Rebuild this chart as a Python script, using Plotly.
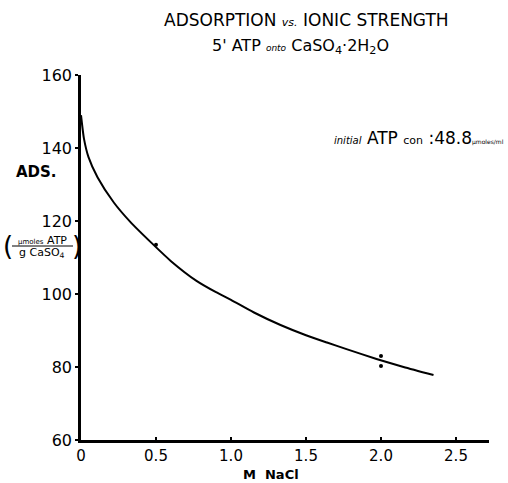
import plotly.graph_objects as go

# Fitted curve
curve_m = [0.0, 0.02, 0.05, 0.11, 0.22, 0.33, 0.47, 0.6, 0.77, 0.9, 1.0, 1.15, 1.33, 1.5, 1.64, 1.77, 1.97, 2.15, 2.35]
curve_ads = [149.0, 142.5, 137.5, 132.0, 125.0, 119.7, 114.0, 109.0, 103.6, 100.5, 98.4, 95.0, 91.5, 88.7, 86.7, 84.9, 82.2, 80.0, 77.8]

# Measured points
point_m = [0.5, 2.0, 2.0]
point_ads = [113.5, 83.0, 80.3]

x_ticks = [0, 0.5, 1.0, 1.5, 2.0, 2.5]
x_tick_labels = ["0", "0.5", "1.0", "1.5", "2.0", "2.5"]
y_ticks = [60, 80, 100, 120, 140, 160]
y_tick_labels = ["60", "80", "100", "120", "140", "160"]

FONT = "DejaVu Sans"
W, H = 508, 483
L, R, T, B = 81, 19, 75, 43
PW, PH = W - L - R, H - T - B


def px(x):
    return (x - L) / PW


def py(y):
    return (H - y - B) / PH


def ann(text, x, y, size, xanchor="center", yanchor="middle"):
    return dict(text=text, x=px(x), y=py(y), xref="paper", yref="paper",
                xanchor=xanchor, yanchor=yanchor, showarrow=False,
                font=dict(size=size, family=FONT, color="black"))


fig = go.Figure()
fig.add_trace(go.Scatter(x=curve_m, y=curve_ads, mode="lines",
                         line=dict(color="black", width=2, shape="spline", smoothing=0.6),
                         hoverinfo="skip", showlegend=False))
fig.add_trace(go.Scatter(x=point_m, y=point_ads, mode="markers",
                         marker=dict(color="black", size=4),
                         showlegend=False))

fig.update_layout(
    width=W, height=H,
    margin=dict(l=L, r=R, t=T, b=B),
    paper_bgcolor="white", plot_bgcolor="white",
    font=dict(family=FONT, color="black", size=13),
    xaxis=dict(range=[0, 2.72], tickvals=x_ticks, ticktext=x_tick_labels,
               showgrid=False, zeroline=False, showline=True, linecolor="black", linewidth=2.5,
               ticks="inside", ticklen=3, tickcolor="black", tickwidth=1.5,
               tickfont=dict(family=FONT, size=15, color="black")),
    yaxis=dict(range=[60, 160], tickvals=y_ticks, ticktext=y_tick_labels,
               showgrid=False, zeroline=False, showline=True, linecolor="black", linewidth=2.5,
               ticks="outside", ticklen=3, tickcolor="black", tickwidth=1.5,
               tickfont=dict(family=FONT, size=16, color="black")),
    annotations=[
        ann("ADSORPTION <i><span style='font-size:11px'>vs.</span></i> IONIC STRENGTH", 306, 20, 17),
        ann("5' ATP <i><span style='font-size:9px'>onto</span></i> CaSO<sub>4</sub>·2H<sub>2</sub>O", 300, 46, 16),
        ann("<i><span style='font-size:10px'>initial</span></i> ATP <span style='font-size:11px'>con</span> :48.8"
            "<span style='font-size:6px'>µmoles/ml</span>",
            506, 138, 17, xanchor="right"),
        ann("<b>ADS.</b>", 36, 172, 15),
        ann("<span style='font-size:7px'>µmoles</span> ATP", 42, 240, 11),
        ann("g CaSO<sub>4</sub>", 42, 253, 11),
        ann("(", 8, 246, 26),
        ann(")", 77, 246, 26),
        ann("<b>M  NaCl</b>", 271, 474, 13),
    ],
    shapes=[dict(type="line", xref="paper", yref="paper",
                 x0=px(12), x1=px(73), y0=py(246), y1=py(246),
                 line=dict(color="black", width=1))],
)

fig.write_html("out.html", config={"displayModeBar": False},
               post_script="document.body.style.margin='0px';")
